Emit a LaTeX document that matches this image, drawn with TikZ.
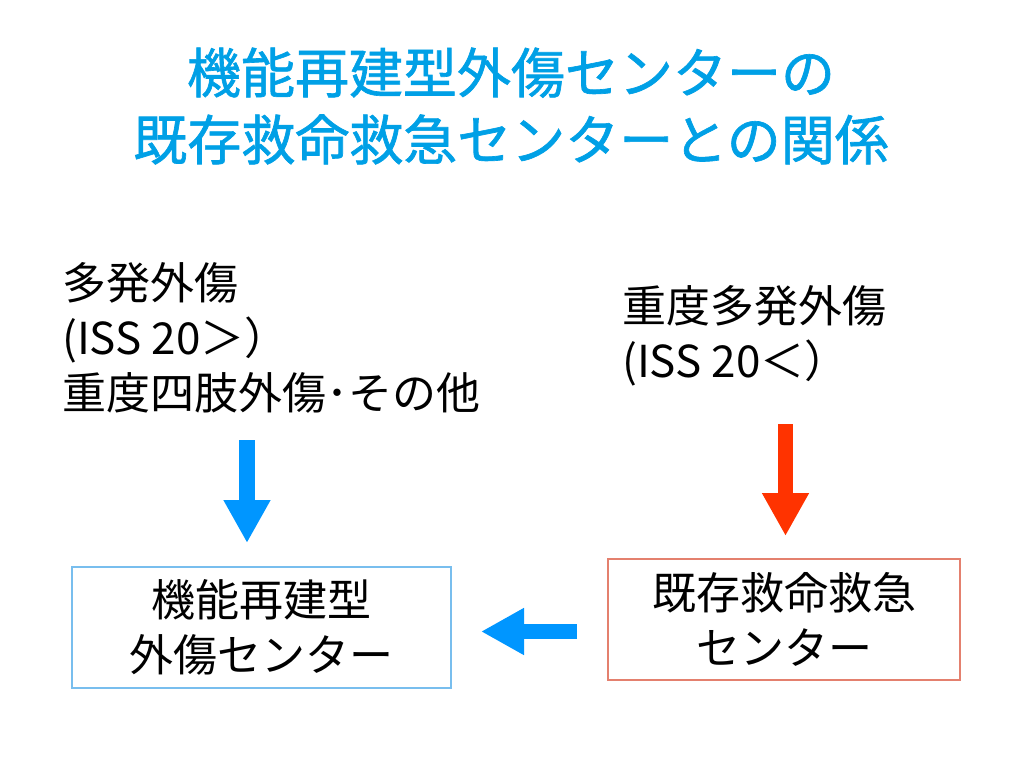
\documentclass[tikz,border=0pt]{standalone}
\usepackage{fontspec}
\setmainfont{Noto Sans CJK JP}
\newfontfamily\titlefont{Noto Sans CJK JP}[FakeBold=1.2]
\usetikzlibrary{arrows.meta}
\definecolor{titlecyan}{RGB}{0,160,230}
\definecolor{arrowblue}{RGB}{0,150,255}
\definecolor{arrowred}{RGB}{255,51,0}
\definecolor{boxblue}{RGB}{120,190,238}
\definecolor{boxred}{RGB}{228,128,110}
\tikzset{
  titletext/.style={font=\titlefont\fontsize{54}{67}\selectfont, text=titlecyan, align=center, inner sep=0pt},
  bodytext/.style={font=\fontsize{44}{55}\selectfont, align=left, inner sep=0pt, anchor=north west},
  centerbox/.style={draw, line width=1.2pt, minimum width=379pt, minimum height=121pt, font=\fontsize{44}{55}\selectfont, align=center, inner sep=0pt},
  blockarrow/.style={line width=16pt, -{Triangle[length=43pt,width=44pt]}},
}
\begin{document}
\begin{tikzpicture}[x=1pt,y=-1pt]
\useasboundingbox (0,0) rectangle (1024,768);
\fill[white] (0,0) rectangle (1024,768);
\node[titletext] (title) at (511,106) {機能再建型外傷センターの\\既存救命救急センターとの関係};
\node[bodytext] (left) at (62,262) {多発外傷\\(ISS 20＞）\\重度四肢外傷･その他};
\node[bodytext] (right) at (622,285) {重度多発外傷\\(ISS 20＜）};
\node[centerbox, draw=boxblue] (fbox) at (261.5,627.5) {機能再建型\\外傷センター};
\node[centerbox, draw=boxred, minimum width=352pt] (ebox) at (784,619.5) {既存救命救急\\センター};
\coordinate (b1s) at (247,440);
\coordinate (b1e) at (247,543);
\coordinate (r1s) at (785.5,424);
\coordinate (r1e) at (785.5,536);
\coordinate (b2s) at (577,631.5);
\coordinate (b2e) at (481,631.5);
\draw[blockarrow, draw=arrowblue, fill=arrowblue] (b1s) -- (b1e);
\draw[blockarrow, draw=arrowred, fill=arrowred, line width=15pt] (r1s) -- (r1e);
\draw[blockarrow, draw=arrowblue, fill=arrowblue, line width=15pt] (b2s) -- (b2e);
\end{tikzpicture}
\end{document}
